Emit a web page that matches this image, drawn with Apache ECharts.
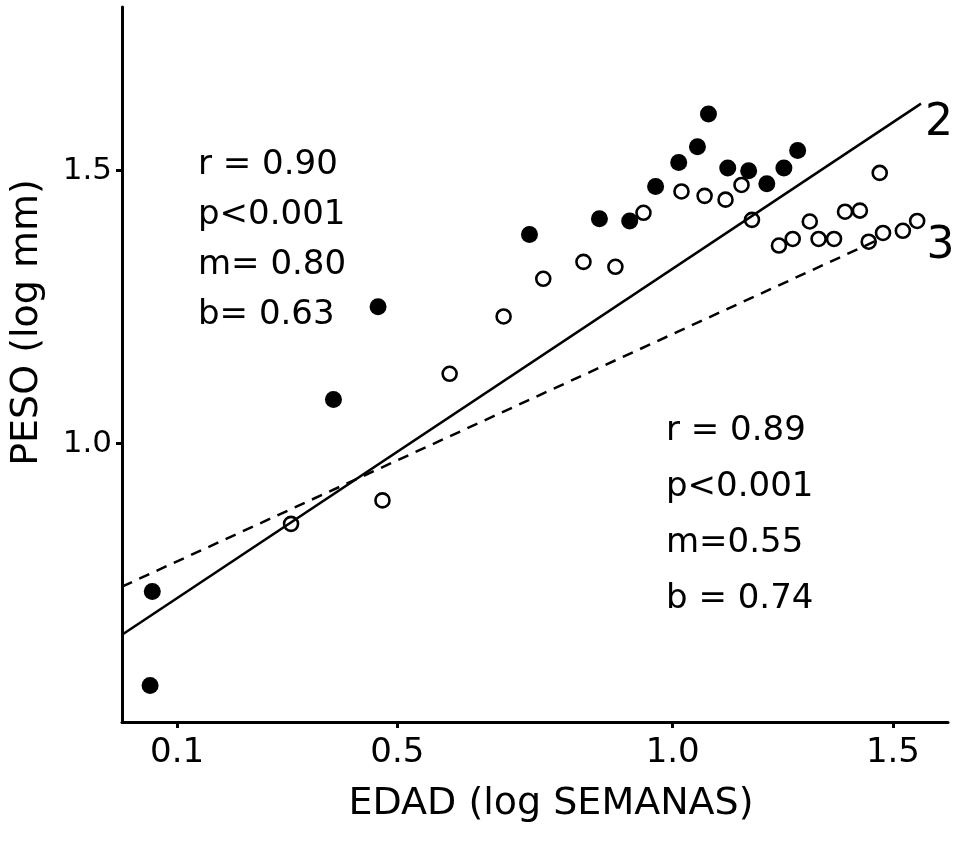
<!DOCTYPE html>
<html><head><meta charset="utf-8">
<script src="https://cdn.jsdelivr.net/npm/echarts@6/dist/echarts.min.js"></script>
<style>html,body{margin:0;padding:0;background:#fff}#c{width:957px;height:844px}</style>
</head><body><div id="c"></div>
<script>
// ---- data ----
const filledX = [0.055, 0.051, 0.384, 0.465, 0.740, 0.867, 0.922, 0.969, 1.011, 1.045, 1.065, 1.100, 1.138, 1.171, 1.202, 1.227];
const filledY = [0.729, 0.557, 1.081, 1.251, 1.383, 1.412, 1.408, 1.471, 1.515, 1.544, 1.604, 1.505, 1.500, 1.476, 1.505, 1.537];
const openX = [0.307, 0.473, 0.595, 0.693, 0.765, 0.838, 0.896, 0.947, 1.016, 1.058, 1.096, 1.125, 1.144, 1.193, 1.218, 1.249, 1.265, 1.293, 1.313, 1.340, 1.356, 1.376, 1.382, 1.418, 1.444];
const openY = [0.853, 0.896, 1.128, 1.233, 1.302, 1.333, 1.324, 1.423, 1.462, 1.454, 1.447, 1.474, 1.410, 1.363, 1.375, 1.407, 1.375, 1.375, 1.425, 1.427, 1.370, 1.496, 1.386, 1.390, 1.408];
const line2X = [0, 1.451];
const line2Y = [0.650, 1.623];
const line3X = [0, 1.37];
const line3Y = [0.738, 1.372];
const xTickValues = [0.1, 0.5, 1.0, 1.4];
const xTickLabels = ['0.1', '0.5', '1.0', '1.5'];
const yTickValues = [1.0, 1.5];
const yTickLabels = ['1.0', '1.5'];
const stats2Lines = ['r = 0.90', 'p<0.001', 'm= 0.80', 'b= 0.63'];
const stats3Lines = ['r = 0.89', 'p<0.001', 'm=0.55', 'b = 0.74'];
const xTitle = 'EDAD (log SEMANAS)';
const yTitle = 'PESO (log mm)';

// ---- chart ----
const FONT = 'DejaVu Sans';
const zip = (xs, ys) => xs.map((x, i) => [x, ys[i]]);
const pick = (vals, labels) => v => {
  let best = 0;
  vals.forEach((t, i) => { if (Math.abs(t - v) < Math.abs(vals[best] - v)) best = i; });
  return labels[best];
};
const chart = echarts.init(document.getElementById('c'), null, {renderer: 'canvas'});

function textBlock(lines, left, top, gap) {
  return lines.map((t, i) => ({
    type: 'text', left: left, top: top + i * gap,
    style: {text: t, font: '34px "' + FONT + '"', fill: '#000'}
  }));
}

chart.setOption({
  animation: false,
  backgroundColor: '#fff',
  grid: {left: 121, right: 9, top: 7, bottom: 122},
  xAxis: {
    type: 'value', min: 0, max: 1.5,
    name: xTitle, nameLocation: 'middle', nameGap: 63,
    nameTextStyle: {fontFamily: FONT, fontSize: 38, color: '#000', padding: [0, 0, 0, 32]},
    axisLine: {show: true, lineStyle: {color: '#000', width: 3}},
    axisTick: {show: true, customValues: xTickValues, length: 6, lineStyle: {color: '#000', width: 3}},
    axisLabel: {show: true, customValues: xTickValues, formatter: pick(xTickValues, xTickLabels),
      fontFamily: FONT, fontSize: 34, color: '#000', margin: 14},
    splitLine: {show: false}
  },
  yAxis: {
    type: 'value', min: 0.49, max: 1.8,
    name: yTitle, nameLocation: 'middle', nameGap: 76,
    nameTextStyle: {fontFamily: FONT, fontSize: 38, color: '#000', padding: [0, 0, 0, 84]},
    axisLine: {show: true, lineStyle: {color: '#000', width: 3}},
    axisTick: {show: true, customValues: yTickValues, length: 6, lineStyle: {color: '#000', width: 3}},
    axisLabel: {show: true, customValues: yTickValues, formatter: pick(yTickValues, yTickLabels),
      fontFamily: FONT, fontSize: 31, color: '#000', margin: 10},
    splitLine: {show: false}
  },
  series: [
    {
      type: 'line', name: '2', data: zip(line2X, line2Y), symbol: 'none', z: 2,
      lineStyle: {color: '#000', width: 2.5, type: 'solid'},
      endLabel: {show: true, formatter: '2', fontFamily: FONT, fontSize: 44, color: '#000', offset: [0, 20], distance: 4}
    },
    {
      type: 'line', name: '3', data: zip(line3X, line3Y), symbol: 'none', z: 2,
      lineStyle: {color: '#000', width: 2.5, type: [11, 8]},
      endLabel: {show: true, formatter: '3', fontFamily: FONT, fontSize: 44, color: '#000', offset: [46, 6], distance: 4}
    },
    {
      type: 'scatter', name: 'filled', data: zip(filledX, filledY), symbol: 'circle', symbolSize: 17, z: 3,
      itemStyle: {color: '#000', opacity: 1}
    },
    {
      type: 'scatter', name: 'open', data: zip(openX, openY), symbol: 'circle', symbolSize: 14, z: 3,
      itemStyle: {color: 'rgba(0,0,0,0)', borderColor: '#000', borderWidth: 2.6, opacity: 1}
    }
  ],
  graphic: [].concat(textBlock(stats2Lines, 198, 148, 50), textBlock(stats3Lines, 666, 414, 56))
});
</script>
</body></html>
